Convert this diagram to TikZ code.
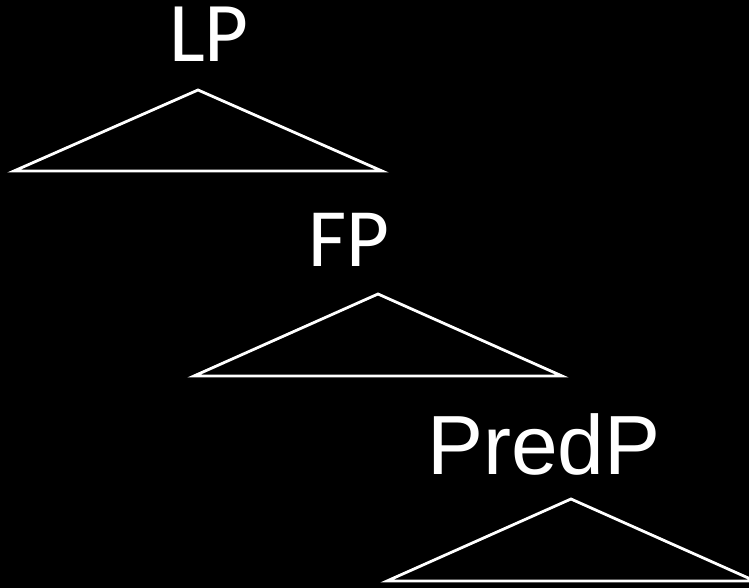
\documentclass[tikz,border=0pt]{standalone}
\usepackage{fontspec}
\setmainfont{Liberation Sans}
\newfontfamily\labfont{Carlito}
\begin{document}
\begin{tikzpicture}[x=1pt,y=-1pt,
  tri/.style={draw=white,line width=2.8pt,line join=miter},
  lab/.style={text=white,inner sep=0pt,anchor=base,text depth=0pt}]
\fill[black] (0,0) rectangle (749,588);
\useasboundingbox (0,0) rectangle (749,588);
\node[lab,text height=55pt,font=\labfont\fontsize{85}{90}\selectfont] (lp) at (209,62) {LP};
\node[lab,text height=54pt,font=\labfont\fontsize{83}{90}\selectfont] (fp) at (349,266) {FP};
\node[lab,text height=61pt,font=\fontsize{84}{90}\selectfont] (predp) at (544,474) {PredP};
\coordinate (a1) at (198,90);
\draw[tri] (a1) -- (382,171) -- (14,171) -- cycle;
\coordinate (a2) at (378,294);
\draw[tri] (a2) -- (562,376) -- (194,376) -- cycle;
\coordinate (a3) at (571,499);
\begin{scope}
\clip (0,0) rectangle (749,588);
\draw[tri] (a3) -- (755,581) -- (387,581) -- cycle;
\end{scope}
\end{tikzpicture}
\end{document}
